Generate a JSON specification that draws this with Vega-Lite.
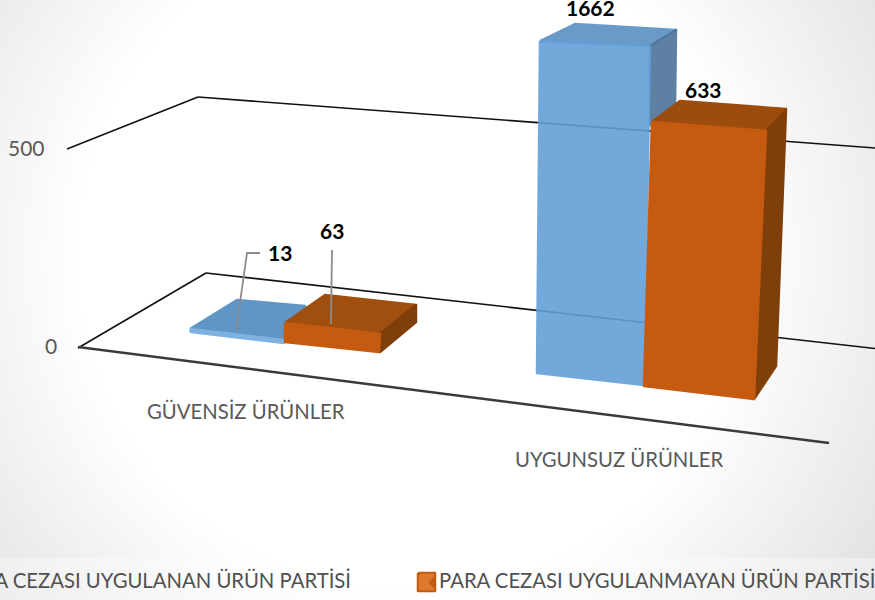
{
"$schema":"https://vega.github.io/schema/vega-lite/v6.json",
"width":875,"height":600,"padding":0,"autosize":{"type":"none"},
"background":"#ffffff",
"config":{"view":{"stroke":null}},
"datasets":{
"panel":[{"a":0,"a2":875,"h":0,"h2":600}],
"strip":[{"a":0,"a2":875,"h":558,"h2":600}],
"lines":[
{"name":"g500l","a":67,"h":149,"a2":198,"h2":97},
{"name":"g500b","a":198,"h":97,"a2":875,"h2":148},
{"name":"g0l","a":78,"h":348,"a2":206,"h2":273},
{"name":"g0b","a":206,"h":273,"a2":875,"h2":348.5}
],
"axisline":[{"a":78,"h":347,"a2":829,"h2":443}],
"faces":[
{"face":"s1a-top","o":0,"a":190,"h":329},{"face":"s1a-top","o":1,"a":237,"h":300},{"face":"s1a-top","o":2,"a":305,"h":306},{"face":"s1a-top","o":3,"a":284,"h":342},{"face":"s1a-top","o":4,"a":190,"h":329},
{"face":"s1a-front","o":0,"a":190,"h":329},{"face":"s1a-front","o":1,"a":284,"h":340},{"face":"s1a-front","o":2,"a":284,"h":343},{"face":"s1a-front","o":3,"a":191,"h":332},{"face":"s1a-front","o":4,"a":190,"h":329},
{"face":"s2a-top","o":0,"a":285,"h":323},{"face":"s2a-top","o":1,"a":325,"h":295},{"face":"s2a-top","o":2,"a":416,"h":305},{"face":"s2a-top","o":3,"a":380,"h":334},{"face":"s2a-top","o":4,"a":285,"h":323},
{"face":"s2a-side","o":0,"a":380,"h":334},{"face":"s2a-side","o":1,"a":416,"h":305},{"face":"s2a-side","o":2,"a":416,"h":322},{"face":"s2a-side","o":3,"a":380,"h":352},{"face":"s2a-side","o":4,"a":380,"h":334},
{"face":"s2a-front","o":0,"a":285,"h":323},{"face":"s2a-front","o":1,"a":380,"h":334},{"face":"s2a-front","o":2,"a":379,"h":352},{"face":"s2a-front","o":3,"a":285,"h":342},{"face":"s2a-front","o":4,"a":285,"h":323},
{"face":"s1b-top","o":0,"a":540,"h":41},{"face":"s1b-top","o":1,"a":575,"h":24},{"face":"s1b-top","o":2,"a":676,"h":30},{"face":"s1b-top","o":3,"a":650,"h":46},{"face":"s1b-top","o":4,"a":540,"h":41},
{"face":"s1b-side","o":0,"a":650,"h":46},{"face":"s1b-side","o":1,"a":676,"h":30},{"face":"s1b-side","o":2,"a":675,"h":105},{"face":"s1b-side","o":3,"a":650,"h":125},{"face":"s1b-side","o":4,"a":650,"h":46},
{"face":"s1b-front","o":0,"a":540,"h":41},{"face":"s1b-front","o":1,"a":650,"h":46},{"face":"s1b-front","o":2,"a":644,"h":385},{"face":"s1b-front","o":3,"a":537,"h":373},{"face":"s1b-front","o":4,"a":540,"h":41},
{"face":"s2b-top","o":0,"a":652,"h":122},{"face":"s2b-top","o":1,"a":680,"h":101},{"face":"s2b-top","o":2,"a":786,"h":109},{"face":"s2b-top","o":3,"a":766,"h":131},{"face":"s2b-top","o":4,"a":652,"h":122},
{"face":"s2b-side","o":0,"a":766,"h":131},{"face":"s2b-side","o":1,"a":786,"h":110},{"face":"s2b-side","o":2,"a":776,"h":366},{"face":"s2b-side","o":3,"a":754,"h":399},{"face":"s2b-side","o":4,"a":766,"h":131},
{"face":"s2b-front","o":0,"a":652,"h":122},{"face":"s2b-front","o":1,"a":766,"h":131},{"face":"s2b-front","o":2,"a":754,"h":399},{"face":"s2b-front","o":3,"a":644,"h":386},{"face":"s2b-front","o":4,"a":652,"h":122},
{"face":"key-outer","o":0,"a":418,"h":573},{"face":"key-outer","o":1,"a":435,"h":573},{"face":"key-outer","o":2,"a":435,"h":591},{"face":"key-outer","o":3,"a":418,"h":591},{"face":"key-outer","o":4,"a":418,"h":573},
{"face":"key-inner","o":0,"a":420,"h":575},{"face":"key-inner","o":1,"a":433,"h":575},{"face":"key-inner","o":2,"a":427,"h":583},{"face":"key-inner","o":3,"a":433,"h":589},{"face":"key-inner","o":4,"a":420,"h":589},{"face":"key-inner","o":5,"a":420,"h":575}
],
"leaders":[
{"leader":"13","o":0,"a":260,"h":253},{"leader":"13","o":1,"a":247,"h":253},{"leader":"13","o":2,"a":236,"h":331},
{"leader":"63","o":0,"a":332,"h":250},{"leader":"63","o":1,"a":331,"h":324}
],
"ticks":[{"text":"500","a":8,"h":150},{"text":"0","a":45,"h":348}],
"categories":[{"text":"GÜVENSİZ ÜRÜNLER","a":147,"h":413},{"text":"UYGUNSUZ ÜRÜNLER","a":515,"h":461}],
"bars":[
{"category":"GÜVENSİZ ÜRÜNLER","series":"PARA CEZASI UYGULANAN ÜRÜN PARTİSİ","value":13,"a":268,"h":255},
{"category":"GÜVENSİZ ÜRÜNLER","series":"PARA CEZASI UYGULANMAYAN ÜRÜN PARTİSİ","value":63,"a":320,"h":233},
{"category":"UYGUNSUZ ÜRÜNLER","series":"PARA CEZASI UYGULANAN ÜRÜN PARTİSİ","value":1662,"a":566,"h":10},
{"category":"UYGUNSUZ ÜRÜNLER","series":"PARA CEZASI UYGULANMAYAN ÜRÜN PARTİSİ","value":633,"a":685,"h":92}
],
"legendtext":[{"text":"PARA CEZASI UYGULANAN ÜRÜN PARTİSİ","a":351,"h":582,"side":"end"},{"text":"PARA CEZASI UYGULANMAYAN ÜRÜN PARTİSİ","a":439,"h":582,"side":"start"}]
},
"encoding":{
"x":{"field":"a","type":"quantitative","scale":{"domain":[0,875],"nice":false,"zero":false},"axis":null},
"y":{"field":"h","type":"quantitative","scale":{"domain":[600,0],"nice":false,"zero":false},"axis":null}
},
"layer":[
{"data":{"name":"panel"},"mark":{"type":"rect","fill":{"gradient":"radial","x1":0.47,"y1":0.45,"r1":0.1,"x2":0.47,"y2":0.45,"r2":0.72,"stops":[{"offset":0,"color":"#ffffff"},{"offset":0.45,"color":"#ffffff"},{"offset":1,"color":"#d9d9d9"}]}},
 "encoding":{"x2":{"field":"a2"},"y2":{"field":"h2"}}},
{"data":{"name":"strip"},"mark":{"type":"rect","fill":"#ffffff","opacity":0.35},"encoding":{"x2":{"field":"a2"},"y2":{"field":"h2"}}},
{"data":{"name":"lines"},"mark":{"type":"rule","stroke":"#111111","strokeWidth":1.6},"encoding":{"x2":{"field":"a2"},"y2":{"field":"h2"}}},
{"data":{"name":"axisline"},"mark":{"type":"rule","stroke":"#3a3a3a","strokeWidth":2.4},"encoding":{"x2":{"field":"a2"},"y2":{"field":"h2"}}},
{"data":{"name":"faces"},"mark":{"type":"line","strokeWidth":2.5,"strokeJoin":"round","interpolate":"linear"},
 "encoding":{
  "detail":{"field":"face"},
  "order":{"field":"o","type":"quantitative"},
  "fill":{"field":"face","type":"nominal","legend":null,"scale":{"domain":["s1a-top","s1a-front","s2a-top","s2a-side","s2a-front","s1b-top","s1b-side","s1b-front","s2b-top","s2b-side","s2b-front","key-outer","key-inner"],"range":["#6096c6","#7fb2e0","#a04f0e","#7f3f0a","#c55a11","#5a90c1","#4d7399","#649fd8","#9c4c0d","#7f3f0a","#c55a11","#c55a11","#dd7a2e"]}},
  "stroke":{"field":"face","type":"nominal","legend":null,"scale":{"domain":["s1a-top","s1a-front","s2a-top","s2a-side","s2a-front","s1b-top","s1b-side","s1b-front","s2b-top","s2b-side","s2b-front","key-outer","key-inner"],"range":["#6096c6","#7fb2e0","#a04f0e","#7f3f0a","#c55a11","#5a90c1","#4d7399","#649fd8","#9c4c0d","#7f3f0a","#c55a11","#c55a11","#dd7a2e"]}},
  "opacity":{"condition":{"test":"indexof(datum.face,'s1b')===0","value":0.9},"value":1}
 }},
{"data":{"name":"leaders"},"mark":{"type":"line","stroke":"#8c8c8c","strokeWidth":1.8},"encoding":{"detail":{"field":"leader"},"order":{"field":"o","type":"quantitative"}}},
{"data":{"name":"ticks"},"mark":{"type":"text","font":"Lato","fontSize":21,"fill":"#595959","align":"left","baseline":"middle"},"encoding":{"text":{"field":"text"}}},
{"data":{"name":"categories"},"mark":{"type":"text","font":"Lato","fontSize":20.3,"fill":"#595959","align":"left","baseline":"middle"},"encoding":{"text":{"field":"text"}}},
{"data":{"name":"bars"},"mark":{"type":"text","font":"Lato","fontSize":21,"fontWeight":"bold","fill":"#000000","align":"left","baseline":"middle"},"encoding":{"text":{"field":"value","type":"quantitative"}}},
{"data":{"name":"legendtext"},"mark":{"type":"text","font":"Lato","fontSize":20.3,"fill":"#505050","baseline":"middle","align":"left"},"encoding":{"text":{"field":"text"}},"transform":[{"filter":"datum.side==='start'"}]},
{"data":{"name":"legendtext"},"mark":{"type":"text","font":"Lato","fontSize":20.3,"fill":"#505050","baseline":"middle","align":"right"},"encoding":{"text":{"field":"text"}},"transform":[{"filter":"datum.side==='end'"}]}
]
}
